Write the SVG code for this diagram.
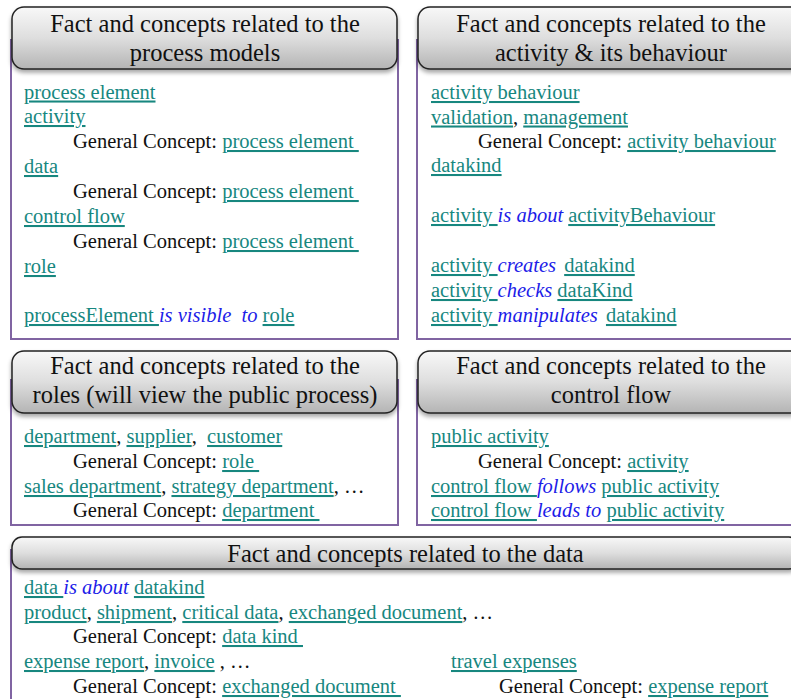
<svg xmlns="http://www.w3.org/2000/svg" width="791" height="699" viewBox="0 0 791 699">
<style>
  .box { fill: #ffffff; stroke: #8064a2; stroke-width: 2; }
  .hdr { fill: url(#hg); stroke: #222222; stroke-width: 1.5; filter: url(#sh); }
  .ht { font-family: "Liberation Serif", "Times New Roman", serif; font-size: 24.5px; fill: #111111; text-anchor: middle; }
  .t { font-family: "Liberation Serif", "Times New Roman", serif; font-size: 20.5px; fill: #111111; }
  .l { fill: #17877f; text-decoration: underline; text-decoration-thickness: 2px; }
  .v { fill: #1c1ce8; font-style: italic; }
</style>
<defs>
  <linearGradient id="hg" x1="0" y1="0" x2="0" y2="1">
    <stop offset="0" stop-color="#f8f8f8"/>
    <stop offset="0.5" stop-color="#dedede"/>
    <stop offset="1" stop-color="#b4b4b4"/>
  </linearGradient>
  <filter id="sh" x="-5%" y="-20%" width="110%" height="150%">
    <feDropShadow dx="0" dy="3" stdDeviation="2" flood-color="#000000" flood-opacity="0.35"/>
  </filter>
</defs>
<rect width="791" height="699" fill="#ffffff"/>

<g id="panel-process-models">
  <rect class="box" x="11" y="40" width="387" height="299"/>
  <rect class="hdr" x="12" y="7" width="385" height="62" rx="12"/>
  <text class="ht" x="205" y="32">Fact and concepts related to the</text>
  <text class="ht" x="205" y="61">process models</text>
  <text class="t" x="24" y="98.5"><tspan class="l">process element</tspan></text>
  <text class="t" x="24" y="123"><tspan class="l">activity</tspan></text>
  <text class="t" x="73" y="148" xml:space="preserve">General Concept: <tspan class="l">process element </tspan></text>
  <text class="t" x="24" y="173"><tspan class="l">data</tspan></text>
  <text class="t" x="73" y="198" xml:space="preserve">General Concept: <tspan class="l">process element </tspan></text>
  <text class="t" x="24" y="223"><tspan class="l">control flow</tspan></text>
  <text class="t" x="73" y="248" xml:space="preserve">General Concept: <tspan class="l">process element </tspan></text>
  <text class="t" x="24" y="273"><tspan class="l">role</tspan></text>
  <text class="t" x="24" y="322" xml:space="preserve"><tspan class="l">processElement </tspan><tspan class="v">is visible  to</tspan> <tspan class="l">role</tspan></text>
</g>

<g id="panel-activity-behaviour">
  <rect class="box" x="417" y="40" width="392" height="299"/>
  <rect class="hdr" x="418" y="7" width="386" height="62" rx="12"/>
  <text class="ht" x="611" y="32">Fact and concepts related to the</text>
  <text class="ht" x="611" y="61">activity &amp; its behaviour</text>
  <text class="t" x="431" y="99"><tspan class="l">activity behaviour</tspan></text>
  <text class="t" x="431" y="123.5" xml:space="preserve"><tspan class="l">validation</tspan>, <tspan class="l">management</tspan></text>
  <text class="t" x="478" y="148" xml:space="preserve">General Concept: <tspan class="l">activity behaviour</tspan></text>
  <text class="t" x="431" y="172"><tspan class="l">datakind</tspan></text>
  <text class="t" x="431" y="222" xml:space="preserve"><tspan class="l">activity </tspan><tspan class="v">is about</tspan> <tspan class="l">activityBehaviour</tspan></text>
  <text class="t" x="431" y="272" xml:space="preserve"><tspan class="l">activity </tspan><tspan class="v">creates</tspan> <tspan class="l" dx="3">datakind</tspan></text>
  <text class="t" x="431" y="297" xml:space="preserve"><tspan class="l">activity </tspan><tspan class="v">checks</tspan> <tspan class="l">dataKind</tspan></text>
  <text class="t" x="431" y="322" xml:space="preserve"><tspan class="l">activity </tspan><tspan class="v">manipulates</tspan> <tspan class="l" dx="3">datakind</tspan></text>
</g>

<g id="panel-roles">
  <rect class="box" x="11" y="380" width="387" height="145"/>
  <rect class="hdr" x="12" y="351" width="385" height="62" rx="12"/>
  <text class="ht" x="205" y="374">Fact and concepts related to the</text>
  <text class="ht" x="205" y="403">roles (will view the public process)</text>
  <text class="t" x="24" y="443" xml:space="preserve"><tspan class="l">department</tspan>, <tspan class="l">supplier</tspan>,  <tspan class="l">customer</tspan></text>
  <text class="t" x="73" y="468" xml:space="preserve">General Concept: <tspan class="l">role </tspan></text>
  <text class="t" x="24" y="493" xml:space="preserve"><tspan class="l">sales department</tspan>, <tspan class="l">strategy department</tspan>, …</text>
  <text class="t" x="73" y="517" xml:space="preserve">General Concept: <tspan class="l">department </tspan></text>
</g>

<g id="panel-control-flow">
  <rect class="box" x="417" y="380" width="392" height="145"/>
  <rect class="hdr" x="418" y="351" width="386" height="62" rx="12"/>
  <text class="ht" x="611" y="374">Fact and concepts related to the</text>
  <text class="ht" x="611" y="403">control flow</text>
  <text class="t" x="431" y="443"><tspan class="l">public activity</tspan></text>
  <text class="t" x="478" y="468" xml:space="preserve">General Concept: <tspan class="l">activity</tspan></text>
  <text class="t" x="431" y="493" xml:space="preserve"><tspan class="l">control flow </tspan><tspan class="v">follows</tspan> <tspan class="l">public activity</tspan></text>
  <text class="t" x="431" y="517" xml:space="preserve"><tspan class="l">control flow </tspan><tspan class="v">leads to</tspan> <tspan class="l">public activity</tspan></text>
</g>

<g id="panel-data">
  <rect class="box" x="11" y="550" width="800" height="200"/>
  <rect class="hdr" x="12" y="537" width="787" height="32" rx="10"/>
  <text class="ht" x="405.5" y="562">Fact and concepts related to the data</text>
  <text class="t" x="24" y="594" xml:space="preserve"><tspan class="l">data </tspan><tspan class="v">is about</tspan> <tspan class="l">datakind</tspan></text>
  <text class="t" x="24" y="619" xml:space="preserve"><tspan class="l">product</tspan>, <tspan class="l">shipment</tspan>, <tspan class="l">critical data</tspan>, <tspan class="l">exchanged document</tspan>, …</text>
  <text class="t" x="73" y="643" xml:space="preserve">General Concept: <tspan class="l">data kind </tspan></text>
  <text class="t" x="24" y="668" xml:space="preserve"><tspan class="l">expense report</tspan>, <tspan class="l">invoice</tspan> , …</text>
  <text class="t" x="73" y="693" xml:space="preserve">General Concept: <tspan class="l">exchanged document </tspan></text>
  <text class="t" x="451" y="668"><tspan class="l">travel expenses</tspan></text>
  <text class="t" x="499" y="693" xml:space="preserve">General Concept: <tspan class="l">expense report</tspan></text>
</g>

<g id="connectors"/>
</svg>
